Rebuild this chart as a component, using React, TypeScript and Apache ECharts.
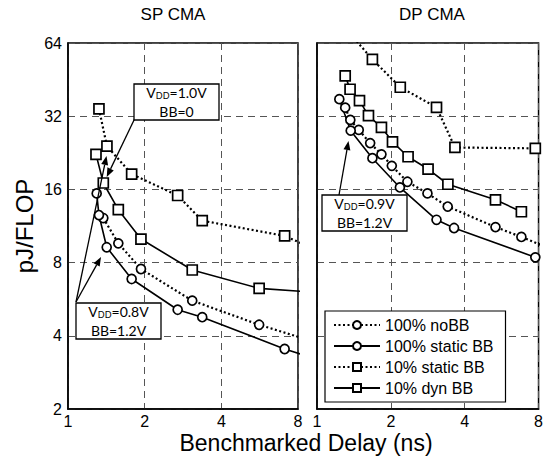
import React, { useEffect, useRef } from 'react';
import * as echarts from 'echarts';

const seriesNames = ['100% noBB', '100% static BB', '10% static BB', '10% dyn BB'];
const panelTitles = ['SP CMA', 'DP CMA'];
const xAxisTitle = 'Benchmarked Delay (ns)';
const yAxisTitle = 'pJ/FLOP';
const xRange = [1, 8];
const yRange = [2, 64];

// SP CMA  [delay ns, pJ/FLOP]
const spNoBB = [[1.376, 12.2], [1.576, 9.6], [1.934, 7.53], [3.075, 5.58], [5.63, 4.44], [9.5, 3.75]];
const spStaticBB = [[1.296, 15.4], [1.323, 12.55], [1.419, 9.25], [1.778, 6.85], [2.695, 5.12], [3.366, 4.77], [7.09, 3.53], [9.5, 3.2]];
const spStatic10 = [[1.323, 34.3], [1.422, 24.1], [1.778, 18.5], [2.695, 15.1], [3.366, 11.9], [7.09, 10.3], [9.5, 9.0]];
const spDyn10 = [[1.288, 22.3], [1.376, 17.0], [1.576, 13.2], [1.934, 10.0], [3.075, 7.46], [5.63, 6.27], [10, 6.0]];

// DP CMA
const dpNoBB = [[1.303, 34.7], [1.367, 30.9], [1.48, 28.1], [1.647, 24.8], [1.831, 22.3], [2.018, 20.0], [2.336, 17.2], [2.82, 15.4], [3.41, 13.6], [5.34, 11.2], [6.81, 10.2], [9.5, 8.9]];
const dpStaticBB = [[1.233, 37.6], [1.372, 27.9], [1.682, 21.5], [2.177, 16.3], [3.07, 12.0], [3.62, 11.1], [7.76, 8.41]];
const dpStatic10 = [[1.3, 74], [1.682, 54.8], [2.185, 42.1], [3.07, 34.8], [3.65, 23.8], [7.76, 23.6]];
const dpDyn10 = [[1.303, 46.9], [1.364, 41.3], [1.49, 37.1], [1.621, 32.2], [1.831, 28.8], [2.031, 25.1], [2.351, 21.8], [2.836, 19.4], [3.416, 16.8], [5.34, 14.5], [6.81, 12.95]];

const FONT = 'Liberation Sans, Arial, sans-serif';
const ANN_FONT = 'Lato, Liberation Sans, sans-serif';

function inRange(p: number[]) {
  return p[0] >= xRange[0] && p[0] <= xRange[1] && p[1] >= yRange[0] && p[1] <= yRange[1];
}

function toData(arr: number[][]) {
  return arr.map((p) => (inRange(p) ? { value: p } : { value: p, symbol: 'none' }));
}

function arrow(x1: number, y1: number, x2: number, y2: number) {
  const dx = x2 - x1;
  const dy = y2 - y1;
  const len = Math.sqrt(dx * dx + dy * dy);
  const ux = dx / len;
  const uy = dy / len;
  const hl = 9;
  const hw = 3.5;
  const bx = x2 - ux * hl;
  const by = y2 - uy * hl;
  return [
    { type: 'line', shape: { x1, y1, x2: bx, y2: by }, style: { stroke: '#000', lineWidth: 1.3 }, z: 20 },
    {
      type: 'polygon',
      shape: { points: [[x2, y2], [bx - uy * hw, by + ux * hw], [bx + uy * hw, by - ux * hw]] },
      style: { fill: '#000' },
      z: 20,
    },
  ];
}

function annBox(x: number, y: number, w: number, h: number, vdd: string, bb: string) {
  const cx = x + w / 2;
  return [
    { type: 'rect', shape: { x, y, width: w, height: h }, style: { fill: '#fff', stroke: '#000', lineWidth: 1.3 }, z: 21 },
    {
      type: 'text',
      x: cx,
      y: y + h / 2 - 9.5,
      z: 22,
      style: {
        text: `{a|V}{s|DD}{a|=${vdd}}`,
        align: 'center',
        verticalAlign: 'middle',
        rich: {
          a: { fontSize: 14, fontFamily: ANN_FONT, fill: '#000', lineHeight: 14 },
          s: { fontSize: 9, fontFamily: ANN_FONT, fill: '#000', lineHeight: 14, padding: [5, 0, 0, 0] },
        },
      },
    },
    {
      type: 'text',
      x: cx,
      y: y + h / 2 + 9.5,
      z: 22,
      style: {
        text: `BB=${bb}`,
        font: `14px ${ANN_FONT}`,
        fill: '#000',
        align: 'center',
        verticalAlign: 'middle',
      },
    },
  ];
}

export default function App() {
  const ref = useRef<HTMLDivElement>(null);
  useEffect(() => {
    if (!ref.current) return;
    const chart = echarts.init(ref.current, undefined, { renderer: 'svg' });

    const mkX = (gi: number) => ({
      type: 'log',
      logBase: 2,
      gridIndex: gi,
      min: xRange[0],
      max: xRange[1],
      axisLine: { show: true, lineStyle: { color: '#000', width: 1.5 } },
      axisTick: { show: false },
      axisLabel: { color: '#000', fontSize: 16, fontFamily: FONT, margin: 4 },
      splitLine: { show: true, lineStyle: { color: '#555', type: [7, 5], width: 1 } },
      minorTick: { show: false },
      minorSplitLine: { show: false },
    });
    const mkY = (gi: number) => ({
      type: 'log',
      logBase: 2,
      gridIndex: gi,
      min: yRange[0],
      max: yRange[1],
      axisLine: { show: true, lineStyle: { color: '#000', width: 1.5 } },
      axisTick: { show: false },
      axisLabel: { show: gi === 0, color: '#000', fontSize: 16, fontFamily: FONT, margin: 6 },
      splitLine: { show: true, lineStyle: { color: '#555', type: [7, 5], width: 1 } },
    });

    const styles = [
      { type: [2, 2.5], symbol: 'circle', size: 9, width: 2.2 },
      { type: 'solid', symbol: 'circle', size: 9, width: 1.6 },
      { type: [2, 2.5], symbol: 'rect', size: 10, width: 2.2 },
      { type: 'solid', symbol: 'rect', size: 10, width: 1.6 },
    ];
    const panels = [
      [spNoBB, spStaticBB, spStatic10, spDyn10],
      [dpNoBB, dpStaticBB, dpStatic10, dpDyn10],
    ];
    const series: any[] = [];
    panels.forEach((sets, gi) => {
      sets.forEach((d, si) => {
        const st = styles[si];
        series.push({
          type: 'line',
          name: seriesNames[si],
          xAxisIndex: gi,
          yAxisIndex: gi,
          data: toData(d),
          clip: true,
          symbol: st.symbol,
          symbolSize: st.size,
          showAllSymbol: true,
          lineStyle: { color: '#000', width: st.width, type: st.type },
          itemStyle: { color: '#fff', borderColor: '#000', borderWidth: 1.7 },
          z: 3,
        });
      });
    });

    const graphics: any[] = [
      { type: 'text', x: 173, y: 14, style: { text: panelTitles[0], font: `17px ${FONT}`, fill: '#000', align: 'center', verticalAlign: 'middle' } },
      { type: 'text', x: 432, y: 14, style: { text: panelTitles[1], font: `17px ${FONT}`, fill: '#000', align: 'center', verticalAlign: 'middle' } },
      { type: 'text', x: 306, y: 443, style: { text: xAxisTitle, font: `23px ${FONT}`, fill: '#000', align: 'center', verticalAlign: 'middle' } },
      { type: 'text', x: 24, y: 226, rotation: Math.PI / 2, style: { text: yAxisTitle, font: `24px ${FONT}`, fill: '#000', align: 'center', verticalAlign: 'middle' } },
      ...arrow(135, 118, 106.7, 177),
      ...arrow(76, 302, 106.5, 156),
      ...arrow(76, 302, 101, 257),
      ...arrow(339, 195, 348.5, 141),
      ...annBox(134, 84, 85, 36, '1.0V', '0'),
      ...annBox(76, 303, 85, 36, '0.8V', '1.2V'),
      ...annBox(322, 195, 85, 36, '0.9V', '1.2V'),
    ];

    chart.setOption({
      animation: false,
      backgroundColor: '#fff',
      grid: [
        { left: 68, right: 248, top: 43, bottom: 51, show: true, borderColor: '#000', borderWidth: 1.5, backgroundColor: 'transparent' },
        { left: 317, right: 1, top: 43, bottom: 51, show: true, borderColor: '#000', borderWidth: 1.5, backgroundColor: 'transparent' },
      ],
      xAxis: [mkX(0), mkX(1)],
      yAxis: [mkY(0), mkY(1)],
      legend: {
        data: seriesNames,
        orient: 'vertical',
        left: 325,
        top: 311,
        width: 172,
        padding: [6, 12, 6, 8],
        itemGap: 5,
        itemWidth: 46,
        itemHeight: 10,
        backgroundColor: '#fff',
        borderColor: '#000',
        borderWidth: 1.2,
        textStyle: { color: '#000', fontSize: 16, fontFamily: FONT },
        z: 10,
      },
      graphic: graphics,
      series,
    });
    return () => chart.dispose();
  }, []);
  return <div ref={ref} style={{ position: 'absolute', left: 0, top: 0, width: 546, height: 460 }} />;
}
